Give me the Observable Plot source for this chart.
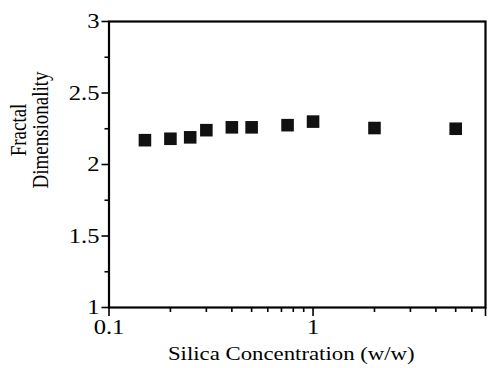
<!DOCTYPE html>
<html>
<head>
<meta charset="utf-8">
<script src="https://cdn.jsdelivr.net/npm/d3@7"></script>
<script src="https://cdn.jsdelivr.net/npm/@observablehq/plot@0.6"></script>
<style>
  html, body { margin: 0; padding: 0; background: #fff; overflow: hidden; }
  #chart { width: 488px; height: 368px; }
</style>
</head>
<body>
<div id="chart"></div>
<script>
// ---- data ----
const silica = [0.15, 0.2, 0.25, 0.3, 0.4, 0.5, 0.75, 1, 2, 5];
const fractalDim = [2.17, 2.18, 2.19, 2.24, 2.26, 2.26, 2.275, 2.30, 2.255, 2.25];
const xMajor = [0.1, 1, 7];
const xMajorLabels = ["0.1", "1", "7"];
const xMinor = [0.2, 0.3, 0.4, 0.5, 0.6, 0.7, 0.8, 0.9, 2, 3, 4, 5, 6];
const yMajor = [1, 1.5, 2, 2.5, 3];
const yMajorLabels = ["1", "1.5", "2", "2.5", "3"];
const yMinor = [1.25, 1.75, 2.25, 2.75];
const xTitle = "Silica Concentration (w/w)";
const yTitle = "Fractal\nDimensionality";

// ---- build ----
const S = 1.2;   // the original's type is horizontally widened
const font = "'Liberation Serif', 'Times New Roman', serif";
const data = silica.map((x, i) => ({x, y: fractalDim[i]}));
const near = (a, b) => Math.abs(a - b) < 1e-6 * Math.max(1, Math.abs(b));
const xFmt = d => xMajorLabels[xMajor.findIndex(v => near(+d, v))] ?? "";
const yFmt = d => yMajorLabels[yMajor.findIndex(v => near(+d, v))] ?? "";

const chart = Plot.plot({
  width: 488,
  height: 368,
  marginLeft: 108.5,
  marginRight: 3,
  marginTop: 21,
  marginBottom: 61,
  style: {fontFamily: font, background: "white", color: "black", overflow: "visible"},
  x: {type: "log", domain: [0.1, 7], label: null},
  y: {domain: [1, 3], label: null},
  marks: [
    Plot.axisX({ticks: xMajor, tickFormat: xFmt, tickSize: 9, tickPadding: 3, fontSize: 20.5, label: null, strokeWidth: 1.6}),
    Plot.axisX({ticks: xMinor, tickFormat: () => "", tickSize: 5, label: null, strokeWidth: 1.6}),
    Plot.axisY({ticks: yMajor, tickFormat: yFmt, tickSize: 7, tickPadding: 2.5, fontSize: 20.5, label: null, strokeWidth: 1.6}),
    Plot.axisY({ticks: yMinor, tickFormat: () => "", tickSize: 4, label: null, strokeWidth: 1.6}),
    Plot.frame({stroke: "black", strokeWidth: 2.2}),
    Plot.dot(data, {x: "x", y: "y", symbol: "square", r: 7.1, fill: "#111", stroke: "none"}),
    Plot.text([xTitle], {frameAnchor: "bottom", textAnchor: "middle", lineAnchor: "middle", dx: -6, dy: 46, fontSize: 19, fill: "black"}),
    Plot.text([yTitle], {frameAnchor: "left", textAnchor: "middle", lineAnchor: "middle", rotate: -90, dx: -79.5, dy: -34.5, lineHeight: 0.965, fontSize: 19, fill: "black"})
  ]
});

// widen every text horizontally about its own anchor, like the original typesetting
chart.querySelectorAll("text").forEach(t => {
  const tr = t.getAttribute("transform");
  if (tr && /rotate\(/.test(tr)) {
    t.setAttribute("transform", tr.replace("rotate(", `scale(${S},1) rotate(`));
  } else if (tr) {
    t.setAttribute("transform", `${tr} scale(${S},1)`);
  } else {
    const x = +t.getAttribute("x") || 0;
    t.setAttribute("transform", `translate(${x},0) scale(${S},1) translate(${-x},0)`);
  }
});

document.getElementById("chart").appendChild(chart);
</script>
</body>
</html>
